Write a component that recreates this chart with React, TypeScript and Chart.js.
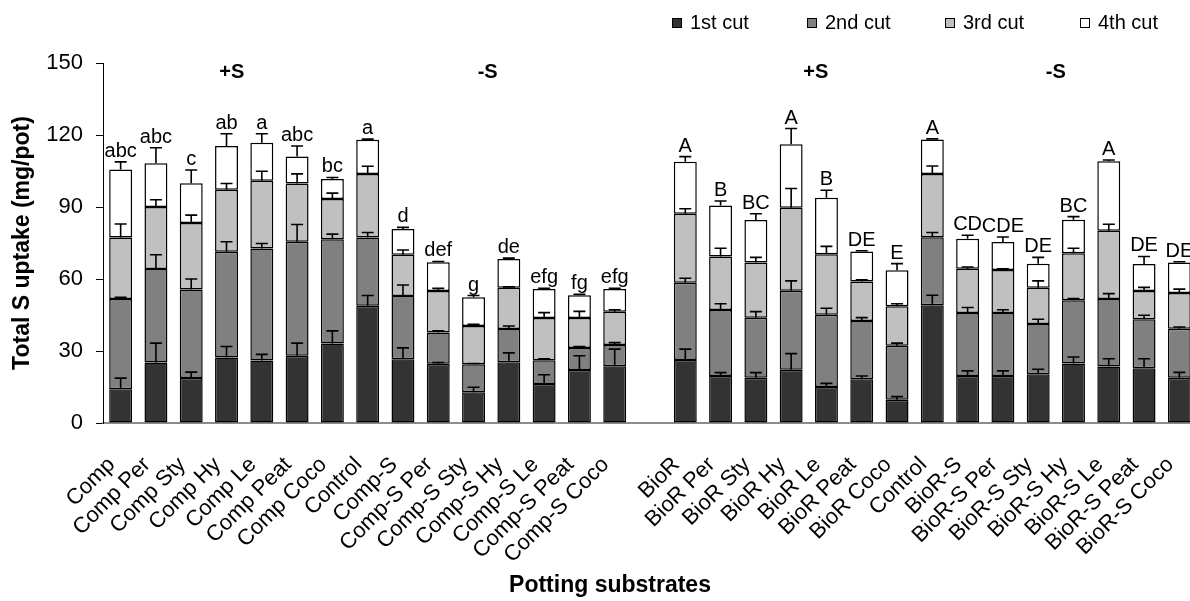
import React, { useEffect, useRef } from 'react';
import { Chart, registerables } from 'chart.js';

Chart.register(...registerables);

const FONT = '"Liberation Sans", Arial, Helvetica, sans-serif';

// Substrates (an empty slot separates the compost and BioR groups)
const categories = [
  'Comp', 'Comp Per', 'Comp Sty', 'Comp Hy', 'Comp Le', 'Comp Peat', 'Comp Coco', 'Control',
  'Comp-S', 'Comp-S Per', 'Comp-S Sty', 'Comp-S Hy', 'Comp-S Le', 'Comp-S Peat', 'Comp-S Coco',
  '',
  'BioR', 'BioR Per', 'BioR Sty', 'BioR Hy', 'BioR Le', 'BioR Peat', 'BioR Coco', 'Control',
  'BioR-S', 'BioR-S Per', 'BioR-S Sty', 'BioR-S Hy', 'BioR-S Le', 'BioR-S Peat', 'BioR-S Coco',
];

// S uptake per cut (mg/pot)
const cut1 = [14.1, 25.2, 18.7, 27.3, 26.0, 28.0, 33.1, 48.9, 26.6, 24.7, 12.8, 25.3, 16.3, 22.1, 23.6, null,
  26.2, 19.6, 18.9, 22.2, 15.0, 18.2, 9.7, 49.1, 19.6, 19.6, 20.3, 24.8, 23.5, 22.8, 18.9];
const cut2 = [37.6, 39.0, 36.9, 44.1, 46.7, 47.5, 43.5, 28.4, 26.3, 13.0, 11.7, 13.9, 9.8, 9.2, 8.9, null,
  32.2, 27.5, 25.0, 32.9, 30.1, 24.3, 22.5, 28.3, 26.2, 26.2, 21.0, 26.3, 28.2, 20.4, 20.4];
const cut3 = [25.6, 25.8, 27.7, 25.8, 28.2, 24.3, 16.7, 26.5, 17.2, 17.3, 15.9, 17.2, 17.7, 12.5, 13.9, null,
  28.8, 22.3, 23.0, 34.6, 25.2, 16.5, 16.4, 26.4, 18.5, 17.9, 15.1, 19.6, 28.4, 11.8, 14.9];
const cut4 = [28.3, 18.2, 16.6, 18.2, 15.9, 11.2, 8.4, 14.2, 10.7, 12.0, 12.0, 11.9, 12.0, 9.4, 9.4, null,
  21.7, 21.2, 17.7, 26.4, 23.6, 12.5, 15.0, 14.3, 12.5, 11.7, 10.0, 14.0, 29.0, 11.3, 12.7];

// Standard deviations per cut
const err1 = [4.6, 8.1, 2.5, 4.6, 2.6, 5.3, 5.3, 4.2, 4.7, 0.5, 2.1, 3.9, 3.8, 5.9, 7.2, null,
  4.6, 1.4, 2.1, 6.7, 1.5, 1.4, 1.3, 4.1, 2.1, 2.1, 2.1, 2.7, 3.3, 4.0, 2.2];
const err2 = [0.7, 5.9, 4.4, 4.1, 2.1, 7.2, 2.1, 2.1, 4.6, 0.7, 0.3, 1.2, 0.7, 0.6, 1.0, null,
  1.9, 2.6, 2.5, 4.1, 2.7, 1.4, 1.1, 2.0, 2.3, 1.4, 1.9, 0.8, 2.2, 1.7, 0.7];
const err3 = [5.6, 3.0, 3.3, 2.6, 4.0, 4.0, 2.5, 3.2, 2.0, 1.1, 0.7, 0.3, 2.2, 2.7, 0.8, null,
  2.1, 3.4, 2.1, 8.0, 3.3, 0.7, 1.1, 3.3, 0.7, 0.6, 2.8, 2.1, 2.7, 1.5, 1.6];
const err4 = [3.2, 6.5, 5.5, 5.1, 3.7, 4.4, 0.6, 0.3, 0.7, 0.3, 0.7, 0.4, 0.3, 0.4, 0.3, null,
  2.1, 1.9, 2.6, 6.6, 3.1, 0.3, 2.8, 0.3, 1.4, 2.1, 2.6, 1.3, 0.5, 3.1, 0.3];

// Significance letters on the totals
const letters = ['abc', 'abc', 'c', 'ab', 'a', 'abc', 'bc', 'a', 'd', 'def', 'g', 'de', 'efg', 'fg', 'efg', '',
  'A', 'B', 'BC', 'A', 'B', 'DE', 'E', 'A', 'CD', 'CDE', 'DE', 'BC', 'A', 'DE', 'DE'];

// Treatment group headings
const groupNames = ['+S', '-S', '+S', '-S'];

const seriesNames = ['1st cut', '2nd cut', '3rd cut', '4th cut'];
const seriesValues = [cut1, cut2, cut3, cut4];
const seriesErrors = [err1, err2, err3, err4];
const seriesColors = ['#333333', '#808080', '#c0c0c0', '#ffffff'];

const overlay = {
  id: 'overlay',
  afterDatasetsDraw(chart: any) {
    const ctx = chart.ctx as CanvasRenderingContext2D;
    const ys = chart.scales.y;
    const xs = chart.scales.x;
    ctx.save();
    ctx.strokeStyle = '#000';
    ctx.lineWidth = 1.6;
    const cap = 6;
    const totals: number[] = categories.map(() => 0);
    seriesValues.forEach((vals, d) => {
      const meta = chart.getDatasetMeta(d);
      vals.forEach((v, i) => {
        if (v == null) return;
        totals[i] += v;
        const bar = meta.data[i];
        const top = ys.getPixelForValue(totals[i]);
        const e = seriesErrors[d][i] as number;
        const yErr = ys.getPixelForValue(totals[i] + e);
        ctx.beginPath();
        ctx.moveTo(bar.x, top);
        ctx.lineTo(bar.x, yErr);
        ctx.moveTo(bar.x - cap, yErr);
        ctx.lineTo(bar.x + cap, yErr);
        ctx.stroke();
      });
    });
    // letters above each total
    ctx.fillStyle = '#000';
    ctx.font = `20px ${FONT}`;
    ctx.textAlign = 'center';
    ctx.textBaseline = 'alphabetic';
    letters.forEach((t, i) => {
      if (!t) return;
      const yErr = ys.getPixelForValue(totals[i] + (err4[i] as number));
      ctx.fillText(t, xs.getPixelForValue(i), yErr - 5);
    });
    // group headings
    ctx.font = `bold 20px ${FONT}`;
    ctx.textBaseline = 'middle';
    const centers = [3.15, 10.4, 19.7, 26.5];
    groupNames.forEach((g, k) => {
      ctx.fillText(g, xs.getPixelForValue(centers[k]), ys.getPixelForValue(146.2));
    });
    ctx.restore();
  },
  afterDraw(chart: any) {
    const ctx = chart.ctx as CanvasRenderingContext2D;
    const area = chart.chartArea;
    ctx.save();
    // legend
    ctx.font = `20px ${FONT}`;
    ctx.textBaseline = 'middle';
    ctx.textAlign = 'left';
    const legendX = [672, 807, 945, 1080];
    seriesNames.forEach((n, k) => {
      const bx = legendX[k];
      ctx.fillStyle = seriesColors[k];
      ctx.fillRect(bx, 18, 10, 10);
      ctx.strokeStyle = '#000';
      ctx.lineWidth = 1;
      ctx.strokeRect(bx + 0.5, 18.5, 9, 9);
      ctx.fillStyle = '#000';
      ctx.fillText(n, bx + 18, 23);
    });
    // axis titles
    ctx.font = `bold 23px ${FONT}`;
    ctx.textAlign = 'center';
    ctx.fillText('Potting substrates', 610, 586);
    ctx.translate(23, (area.top + area.bottom) / 2);
    ctx.rotate(-Math.PI / 2);
    ctx.fillText('Total S uptake (mg/pot)', 0, 0);
    ctx.restore();
  },
};

export default function App() {
  const ref = useRef<HTMLCanvasElement>(null);
  useEffect(() => {
    if (!ref.current) return;
    const chart = new Chart(ref.current, {
      type: 'bar',
      data: {
        labels: categories,
        datasets: seriesValues.map((vals, d) => ({
          label: seriesNames[d],
          data: vals,
          backgroundColor: seriesColors[d],
          borderColor: '#000',
          borderWidth: 1.5,
          borderSkipped: false,
          barPercentage: 0.65,
          categoryPercentage: 1,
          stack: 'all',
        })),
      },
      options: {
        responsive: false,
        animation: false,
        devicePixelRatio: 1,
        layout: { padding: { left: 0, top: 63, right: 18, bottom: 0 } },
        plugins: { legend: { display: false }, tooltip: { enabled: false } },
        scales: {
          x: {
            stacked: true,
            grid: { display: false, drawTicks: false },
            border: { color: '#8c8c8c', width: 2 },
            ticks: {
              autoSkip: false,
              maxRotation: 45,
              minRotation: 45,
              padding: 29,
              labelOffset: -9,
              color: '#000',
              font: { family: FONT, size: 22 },
            },
            afterFit: (s: any) => {
              s.height = 178;
              s.paddingLeft = 0;
              s.paddingRight = 0;
            },
          },
          y: {
            stacked: true,
            min: 0,
            max: 150,
            ticks: { stepSize: 30, padding: 13, color: '#000', font: { family: FONT, size: 22 } },
            grid: { drawOnChartArea: false, drawTicks: true, tickLength: 7, color: '#000' },
            border: { color: '#000', width: 1 },
            afterFit: (s: any) => {
              s.width = 103;
              s.paddingTop = 0;
              s.paddingBottom = 0;
            },
          },
        },
      },
      plugins: [overlay],
    });
    return () => chart.destroy();
  }, []);
  return (
    <div style={{ position: 'fixed', left: 0, top: 0, width: 1190, height: 601, overflow: 'hidden', background: '#fff' }}>
      <canvas ref={ref} width={1215} height={601} style={{ display: 'block' }} />
    </div>
  );
}
